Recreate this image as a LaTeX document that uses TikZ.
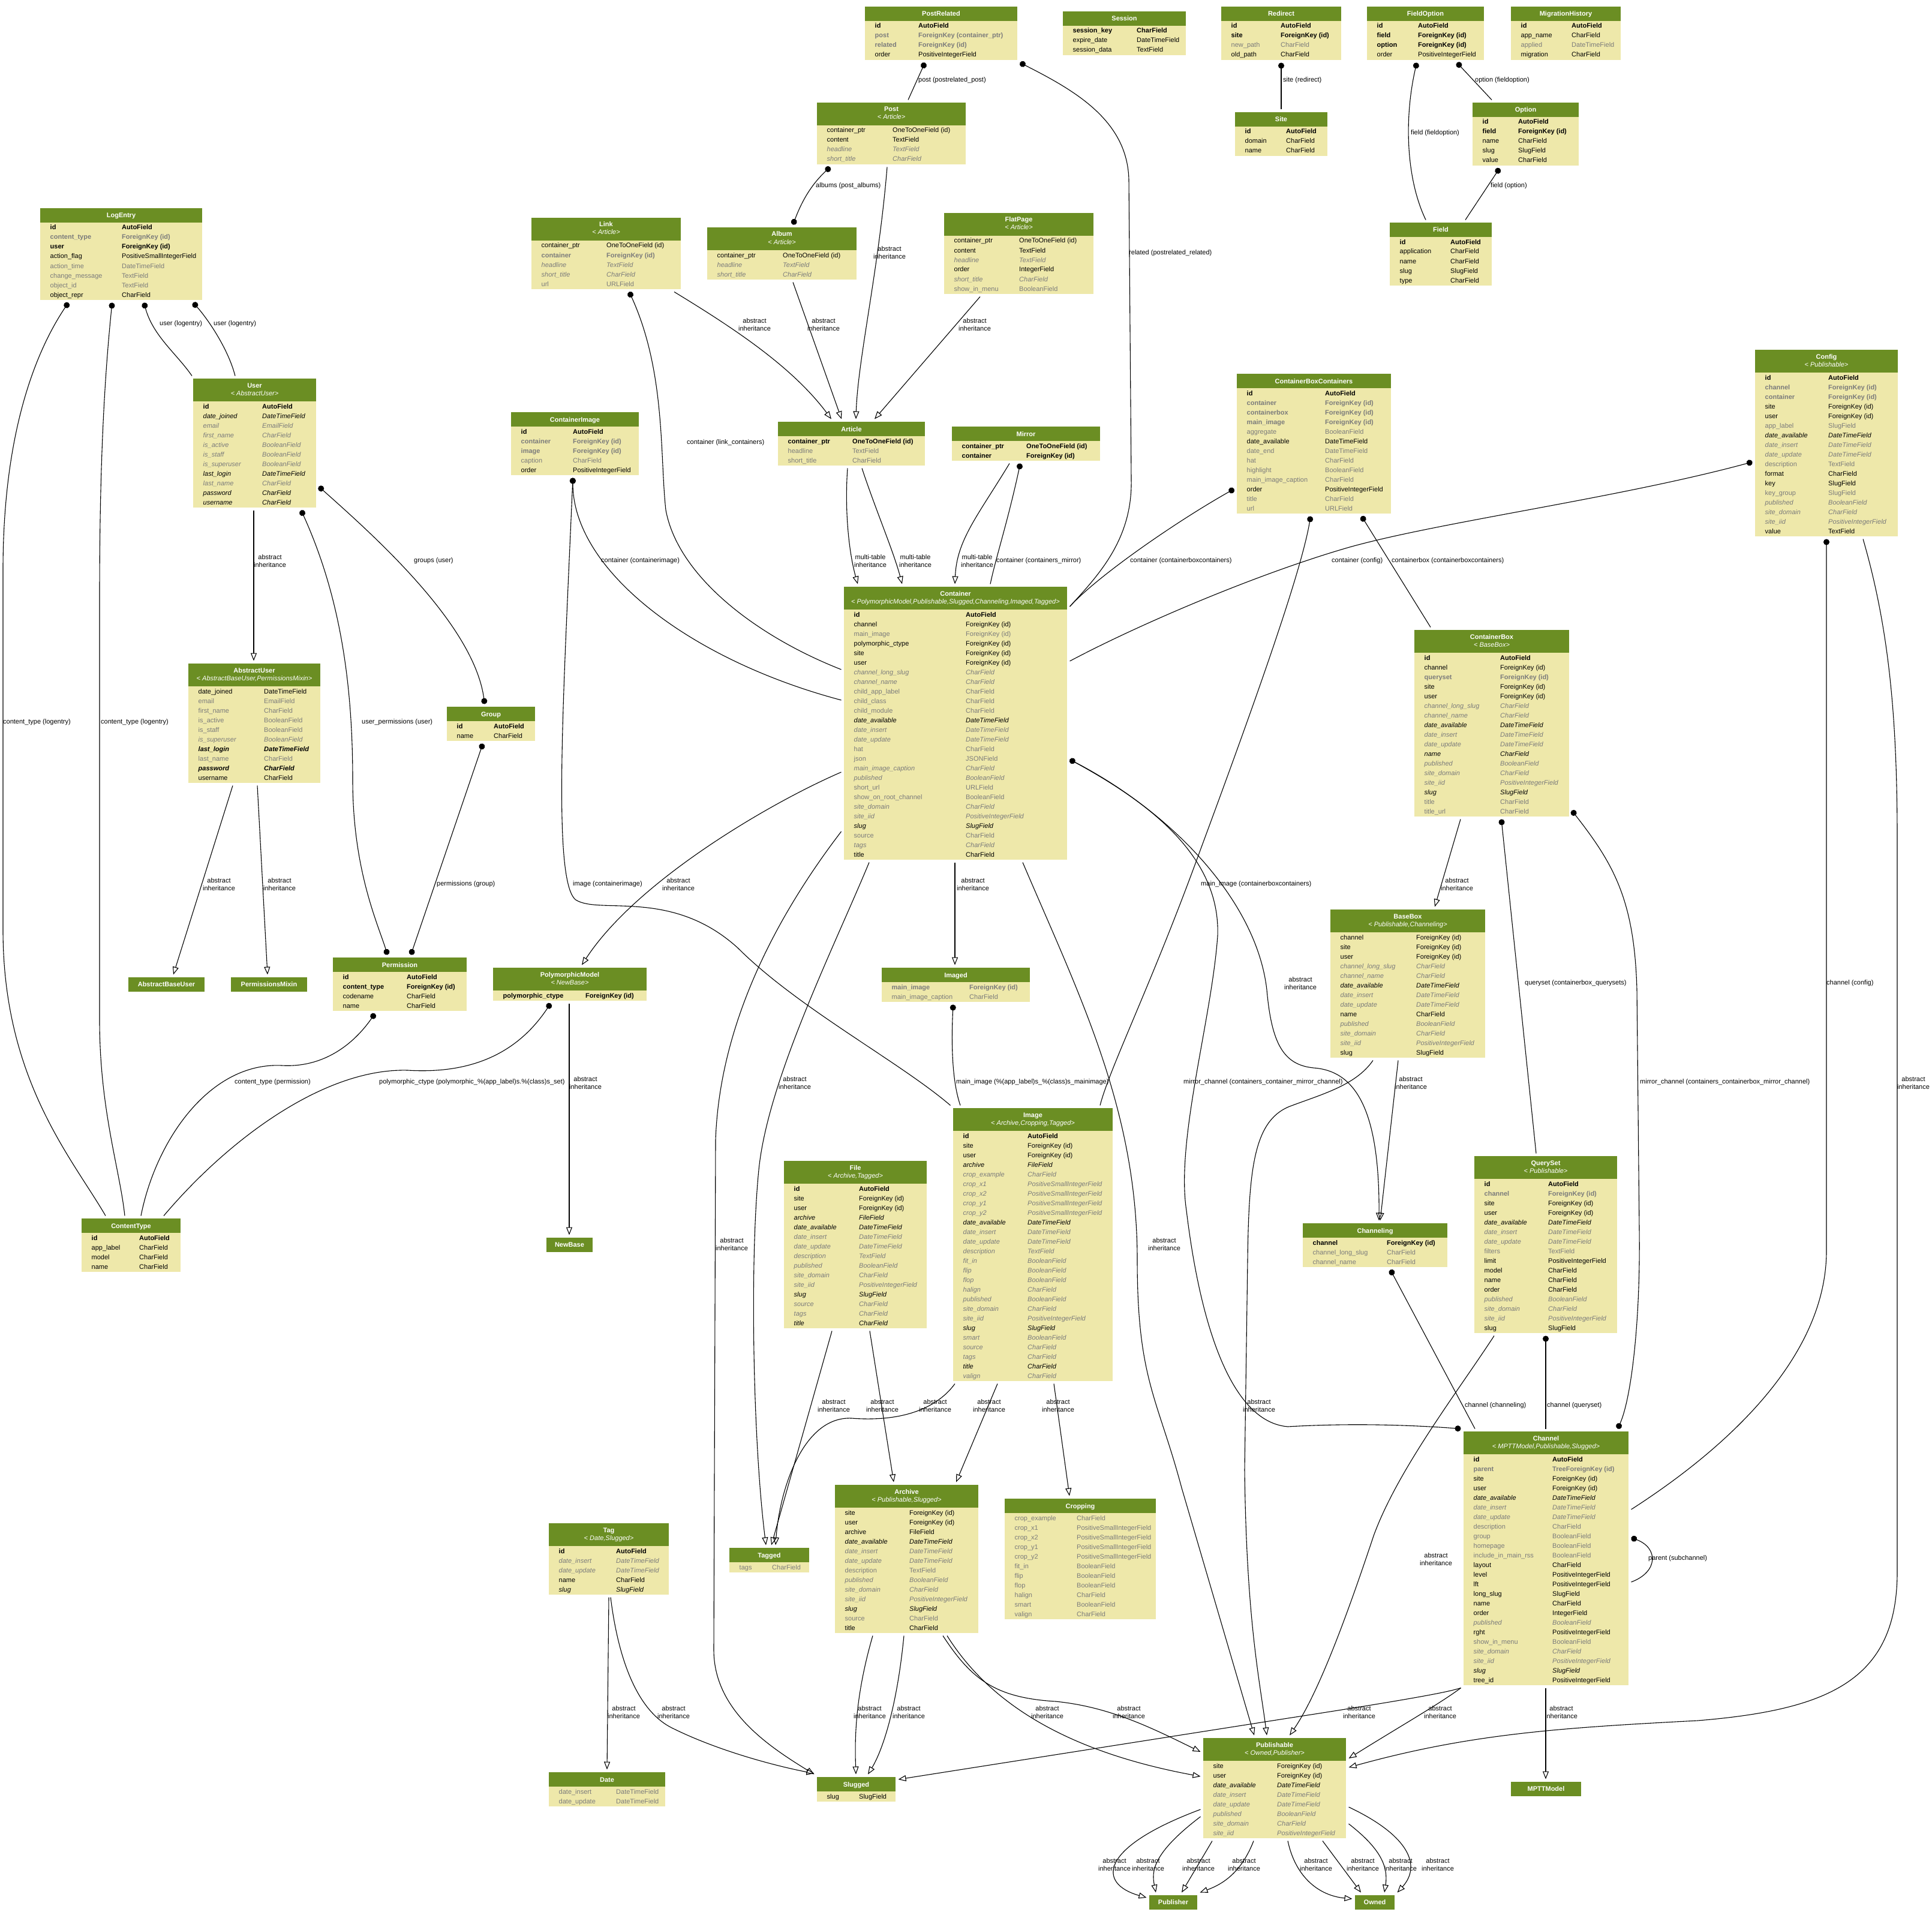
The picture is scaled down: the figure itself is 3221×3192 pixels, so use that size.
\documentclass[tikz,border=0pt]{standalone}
\usepackage{fontspec}
\setmainfont{Liberation Sans}
\usetikzlibrary{arrows.meta}
\definecolor{hdr}{HTML}{6B8E23}
\definecolor{bdy}{HTML}{EEE8AA}
\definecolor{fgray}{HTML}{7B7B7B}
\newcommand\fsB{\bfseries\color{black}}
\newcommand\fsBg{\bfseries\color{fgray}}
\newcommand\fsN{\color{black}}
\newcommand\fsg{\color{fgray}}
\newcommand\fsI{\itshape\color{black}}
\newcommand\fsIg{\itshape\color{fgray}}
\newcommand\fsBI{\bfseries\itshape\color{black}}
\tikzset{
  every node/.style={inner sep=0pt, font=\fontsize{11}{13}\selectfont},
  tblbox/.style={rectangle, fill=bdy, draw=none, outer sep=4.5pt},
  hbox/.style={rectangle, fill=hdr, outer sep=4.5pt, text=white, font=\fontsize{11}{13}\selectfont\bfseries},
  ttl/.style={anchor=base, text=white, font=\fontsize{11}{13}\selectfont\bfseries},
  subt/.style={anchor=base, text=white, font=\fontsize{11}{13}\selectfont\itshape},
  fld/.style={anchor=base west},
  lbl/.style={anchor=west},
  ab/.style={align=center},
  conn/.style={line width=1.1pt},
  fk/.style={conn, {Circle[length=10pt]}-},
  mm/.style={conn, {Circle[length=10pt]}-{Circle[length=10pt]}},
  inh/.style={conn, -{Triangle[open, length=13pt, width=10pt]}},
}
% #1 name, #2 L, #3 T, #4 R, #5 rows, #6 title, #7 subtitle, #8 type column offset, #9 rows
\newcommand{\tbl}[9]{%
  \pgfmathsetmacro\tL{#2}%
  \pgfmathsetmacro\tT{#3}%
  \pgfmathsetmacro\tR{#4}%
  \if\relax\detokenize{#7}\relax
    \pgfmathsetmacro\tH{#3+24}%
  \else
    \pgfmathsetmacro\tH{#3+38}%
  \fi
  \pgfmathsetmacro\tB{\tH+16*#5+1}%
  \pgfmathsetmacro\tW{#4-#2}%
  \pgfmathsetmacro\tHt{\tB-#3}%
  \pgfmathsetmacro\tCx{(#2+#4)/2}%
  \pgfmathsetmacro\tCy{(#3+\tB)/2}%
  \node[tblbox, minimum width=\tW pt, minimum height=\tHt pt] (#1) at (\tCx,\tCy) {};%
  \fill[hdr] (\tL,\tT) rectangle (\tR,\tH);%
  \if\relax\detokenize{#7}\relax
    \node[ttl] at (\tCx,\tT+16) {#6};%
  \else
    \node[ttl] at (\tCx,\tT+15) {#6};%
    \node[subt] at (\tCx,\tT+28) {#7};%
  \fi
  \foreach \s/\a/\b [count=\i from 0] in {#9} {%
    \pgfmathsetmacro\yy{\tH+12+16*\i}%
    \node[fld] at (\tL+16.5,\yy) {\csname fs\s\endcsname\a};%
    \node[fld] at (\tL+#8,\yy) {\csname fs\s\endcsname\b};%
  }%
}
\newcommand{\hbx}[5]{%
  \pgfmathsetmacro\tW{#4-#2}%
  \node[hbox, minimum width=\tW pt, minimum height=24pt] (#1) at ({(#2+#4)/2},{#3+12}) {#5};}
\newcommand{\ai}[3]{\node[ab] (#1) at (#2,#3) {abstract\\inheritance};}
\newcommand{\mt}[3]{\node[ab] (#1) at (#2,#3) {multi-table\\inheritance};}
\begin{document}
\begin{tikzpicture}[x=1pt,y=-1pt]
\useasboundingbox (0,0) rectangle (3221,3192);
\fill[white] (0,0) rectangle (3221,3192);

% ---------------- tables ----------------
\tbl{PostRelated}{1442}{11}{1696}{4}{PostRelated}{}{89}{B/id/AutoField, Bg/post/ForeignKey (container\_ptr), Bg/related/ForeignKey (id), N/order/PositiveIntegerField}
\tbl{Session}{1772}{19}{1977}{3}{Session}{}{123}{B/session\_key/CharField, N/expire\_date/DateTimeField, N/session\_data/TextField}
\tbl{Redirect}{2036}{11}{2236}{4}{Redirect}{}{99}{B/id/AutoField, B/site/ForeignKey (id), g/new\_path/CharField, N/old\_path/CharField}
\tbl{FieldOption}{2279}{11}{2474}{4}{FieldOption}{}{85}{B/id/AutoField, B/field/ForeignKey (id), B/option/ForeignKey (id), N/order/PositiveIntegerField}
\tbl{MigrationHistory}{2519}{11}{2702}{4}{MigrationHistory}{}{101}{B/id/AutoField, N/app\_name/CharField, g/applied/DateTimeField, N/migration/CharField}
\tbl{Post}{1362}{171}{1610}{4}{Post}{< Article>}{126}{N/container\_ptr/OneToOneField (id), N/content/TextField, Ig/headline/TextField, Ig/short\_title/CharField}
\tbl{Site}{2059}{187}{2213}{3}{Site}{}{85}{B/id/AutoField, N/domain/CharField, N/name/CharField}
\tbl{Option}{2455}{171}{2632}{5}{Option}{}{76}{B/id/AutoField, B/field/ForeignKey (id), N/name/CharField, N/slug/SlugField, N/value/CharField}
\tbl{Field}{2317}{371}{2487}{5}{Field}{}{101}{B/id/AutoField, N/application/CharField, N/name/CharField, N/slug/SlugField, N/type/CharField}
\tbl{LogEntry}{67}{347}{337}{8}{LogEntry}{}{136}{B/id/AutoField, Bg/content\_type/ForeignKey (id), B/user/ForeignKey (id), N/action\_flag/PositiveSmallIntegerField, g/action\_time/DateTimeField, g/change\_message/TextField, g/object\_id/TextField, N/object\_repr/CharField}
\tbl{Link}{886}{363}{1135}{5}{Link}{< Article>}{125}{N/container\_ptr/OneToOneField (id), Bg/container/ForeignKey (id), Ig/headline/TextField, Ig/short\_title/CharField, g/url/URLField}
\tbl{Album}{1179}{379}{1428}{3}{Album}{< Article>}{126}{N/container\_ptr/OneToOneField (id), Ig/headline/TextField, Ig/short\_title/CharField}
\tbl{FlatPage}{1574}{355}{1823}{6}{FlatPage}{< Article>}{125}{N/container\_ptr/OneToOneField (id), N/content/TextField, Ig/headline/TextField, N/order/IntegerField, Ig/short\_title/CharField, g/show\_in\_menu/BooleanField}
\tbl{User}{322}{631}{527}{11}{User}{< AbstractUser>}{115}{B/id/AutoField, I/date\_joined/DateTimeField, Ig/email/EmailField, Ig/first\_name/CharField, Ig/is\_active/BooleanField, Ig/is\_staff/BooleanField, Ig/is\_superuser/BooleanField, I/last\_login/DateTimeField, Ig/last\_name/CharField, I/password/CharField, I/username/CharField}
\tbl{ContainerImage}{852}{687}{1065}{5}{ContainerImage}{}{103}{B/id/AutoField, Bg/container/ForeignKey (id), Bg/image/ForeignKey (id), g/caption/CharField, N/order/PositiveIntegerField}
\tbl{Article}{1297}{703}{1542}{3}{Article}{}{124}{B/container\_ptr/OneToOneField (id), g/headline/TextField, g/short\_title/CharField}
\tbl{Mirror}{1587}{711}{1834}{2}{Mirror}{}{124}{B/container\_ptr/OneToOneField (id), B/container/ForeignKey (id)}
\tbl{ContainerBoxContainers}{2062}{623}{2319}{13}{ContainerBoxContainers}{}{147}{B/id/AutoField, Bg/container/ForeignKey (id), Bg/containerbox/ForeignKey (id), Bg/main\_image/ForeignKey (id), g/aggregate/BooleanField, N/date\_available/DateTimeField, g/date\_end/DateTimeField, g/hat/CharField, g/highlight/BooleanField, g/main\_image\_caption/CharField, N/order/PositiveIntegerField, g/title/CharField, g/url/URLField}
\tbl{Config}{2926}{583}{3164}{17}{Config}{< Publishable>}{122}{B/id/AutoField, Bg/channel/ForeignKey (id), Bg/container/ForeignKey (id), N/site/ForeignKey (id), N/user/ForeignKey (id), g/app\_label/SlugField, I/date\_available/DateTimeField, Ig/date\_insert/DateTimeField, Ig/date\_update/DateTimeField, g/description/TextField, N/format/CharField, N/key/SlugField, g/key\_group/SlugField, Ig/published/BooleanField, Ig/site\_domain/CharField, Ig/site\_iid/PositiveIntegerField, N/value/TextField}
\tbl{Container}{1407}{978}{1779}{26}{Container}{< PolymorphicModel,Publishable,Slugged,Channeling,Imaged,Tagged>}{203}{B/id/AutoField, N/channel/ForeignKey (id), g/main\_image/ForeignKey (id), N/polymorphic\_ctype/ForeignKey (id), N/site/ForeignKey (id), N/user/ForeignKey (id), Ig/channel\_long\_slug/CharField, Ig/channel\_name/CharField, g/child\_app\_label/CharField, g/child\_class/CharField, g/child\_module/CharField, I/date\_available/DateTimeField, Ig/date\_insert/DateTimeField, Ig/date\_update/DateTimeField, g/hat/CharField, g/json/JSONField, Ig/main\_image\_caption/CharField, Ig/published/BooleanField, g/short\_url/URLField, g/show\_on\_root\_channel/BooleanField, Ig/site\_domain/CharField, Ig/site\_iid/PositiveIntegerField, I/slug/SlugField, g/source/CharField, Ig/tags/CharField, N/title/CharField}
\tbl{ContainerBox}{2358}{1050}{2616}{17}{ContainerBox}{< BaseBox>}{143}{B/id/AutoField, N/channel/ForeignKey (id), Bg/queryset/ForeignKey (id), N/site/ForeignKey (id), N/user/ForeignKey (id), Ig/channel\_long\_slug/CharField, Ig/channel\_name/CharField, I/date\_available/DateTimeField, Ig/date\_insert/DateTimeField, Ig/date\_update/DateTimeField, I/name/CharField, Ig/published/BooleanField, Ig/site\_domain/CharField, Ig/site\_iid/PositiveIntegerField, I/slug/SlugField, g/title/CharField, g/title\_url/CharField}
\tbl{AbstractUser}{314}{1106}{534}{10}{AbstractUser}{< AbstractBaseUser,PermissionsMixin>}{126}{N/date\_joined/DateTimeField, g/email/EmailField, g/first\_name/CharField, g/is\_active/BooleanField, g/is\_staff/BooleanField, Ig/is\_superuser/BooleanField, BI/last\_login/DateTimeField, g/last\_name/CharField, BI/password/CharField, N/username/CharField}
\tbl{Group}{745}{1178}{892}{2}{Group}{}{78}{B/id/AutoField, N/name/CharField}
\tbl{Permission}{555}{1596}{778}{4}{Permission}{}{123}{B/id/AutoField, B/content\_type/ForeignKey (id), N/codename/CharField, N/name/CharField}
\hbx{AbstractBaseUser}{214}{1629}{341}{AbstractBaseUser}
\hbx{PermissionsMixin}{385}{1629}{512}{PermissionsMixin}
\tbl{PolymorphicModel}{822}{1613}{1078}{1}{PolymorphicModel}{< NewBase>}{154}{B/polymorphic\_ctype/ForeignKey (id)}
\tbl{ContentType}{136}{2031}{301}{4}{ContentType}{}{96}{B/id/AutoField, N/app\_label/CharField, N/model/CharField, N/name/CharField}
\hbx{NewBase}{911}{2063}{988}{NewBase}
\tbl{Imaged}{1470}{1613}{1717}{2}{Imaged}{}{146}{Bg/main\_image/ForeignKey (id), g/main\_image\_caption/CharField}
\tbl{BaseBox}{2218}{1516}{2476}{13}{BaseBox}{< Publishable,Channeling>}{143}{N/channel/ForeignKey (id), N/site/ForeignKey (id), N/user/ForeignKey (id), Ig/channel\_long\_slug/CharField, Ig/channel\_name/CharField, I/date\_available/DateTimeField, Ig/date\_insert/DateTimeField, Ig/date\_update/DateTimeField, N/name/CharField, Ig/published/BooleanField, Ig/site\_domain/CharField, Ig/site\_iid/PositiveIntegerField, N/slug/SlugField}
\tbl{Image}{1589}{1847}{1855}{26}{Image}{< Archive,Cropping,Tagged>}{124}{B/id/AutoField, N/site/ForeignKey (id), N/user/ForeignKey (id), I/archive/FileField, Ig/crop\_example/CharField, Ig/crop\_x1/PositiveSmallIntegerField, Ig/crop\_x2/PositiveSmallIntegerField, Ig/crop\_y1/PositiveSmallIntegerField, Ig/crop\_y2/PositiveSmallIntegerField, I/date\_available/DateTimeField, Ig/date\_insert/DateTimeField, Ig/date\_update/DateTimeField, Ig/description/TextField, Ig/fit\_in/BooleanField, Ig/flip/BooleanField, Ig/flop/BooleanField, Ig/halign/CharField, Ig/published/BooleanField, Ig/site\_domain/CharField, Ig/site\_iid/PositiveIntegerField, I/slug/SlugField, Ig/smart/BooleanField, Ig/source/CharField, Ig/tags/CharField, I/title/CharField, Ig/valign/CharField}
\tbl{File}{1307}{1935}{1545}{15}{File}{< Archive,Tagged>}{125}{B/id/AutoField, N/site/ForeignKey (id), N/user/ForeignKey (id), I/archive/FileField, I/date\_available/DateTimeField, Ig/date\_insert/DateTimeField, Ig/date\_update/DateTimeField, Ig/description/TextField, Ig/published/BooleanField, Ig/site\_domain/CharField, Ig/site\_iid/PositiveIntegerField, I/slug/SlugField, Ig/source/CharField, Ig/tags/CharField, I/title/CharField}
\tbl{Channeling}{2172}{2039}{2413}{3}{Channeling}{}{140}{B/channel/ForeignKey (id), g/channel\_long\_slug/CharField, g/channel\_name/CharField}
\tbl{QuerySet}{2458}{1927}{2696}{16}{QuerySet}{< Publishable>}{123}{B/id/AutoField, Bg/channel/ForeignKey (id), N/site/ForeignKey (id), N/user/ForeignKey (id), I/date\_available/DateTimeField, Ig/date\_insert/DateTimeField, Ig/date\_update/DateTimeField, g/filters/TextField, N/limit/PositiveIntegerField, N/model/CharField, N/name/CharField, N/order/CharField, Ig/published/BooleanField, Ig/site\_domain/CharField, Ig/site\_iid/PositiveIntegerField, N/slug/SlugField}
\tbl{Channel}{2440}{2386}{2715}{24}{Channel}{< MPTTModel,Publishable,Slugged>}{148}{B/id/AutoField, Bg/parent/TreeForeignKey (id), N/site/ForeignKey (id), N/user/ForeignKey (id), I/date\_available/DateTimeField, Ig/date\_insert/DateTimeField, Ig/date\_update/DateTimeField, g/description/CharField, g/group/BooleanField, g/homepage/BooleanField, g/include\_in\_main\_rss/BooleanField, N/layout/CharField, N/level/PositiveIntegerField, N/lft/PositiveIntegerField, N/long\_slug/SlugField, N/name/CharField, N/order/IntegerField, Ig/published/BooleanField, N/rght/PositiveIntegerField, g/show\_in\_menu/BooleanField, Ig/site\_domain/CharField, Ig/site\_iid/PositiveIntegerField, I/slug/SlugField, N/tree\_id/PositiveIntegerField}
\tbl{Cropping}{1675}{2498}{1927}{11}{Cropping}{}{120}{g/crop\_example/CharField, g/crop\_x1/PositiveSmallIntegerField, g/crop\_x2/PositiveSmallIntegerField, g/crop\_y1/PositiveSmallIntegerField, g/crop\_y2/PositiveSmallIntegerField, g/fit\_in/BooleanField, g/flip/BooleanField, g/flop/BooleanField, g/halign/CharField, g/smart/BooleanField, g/valign/CharField}
\tbl{Archive}{1392}{2475}{1631}{13}{Archive}{< Publishable,Slugged>}{124}{N/site/ForeignKey (id), N/user/ForeignKey (id), N/archive/FileField, I/date\_available/DateTimeField, Ig/date\_insert/DateTimeField, Ig/date\_update/DateTimeField, g/description/TextField, Ig/published/BooleanField, Ig/site\_domain/CharField, Ig/site\_iid/PositiveIntegerField, I/slug/SlugField, g/source/CharField, N/title/CharField}
\tbl{Tagged}{1216}{2580}{1349}{1}{Tagged}{}{71}{g/tags/CharField}
\tbl{Tag}{915}{2539}{1115}{5}{Tag}{< Date,Slugged>}{112}{B/id/AutoField, Ig/date\_insert/DateTimeField, Ig/date\_update/DateTimeField, N/name/CharField, I/slug/SlugField}
\tbl{Date}{915}{2954}{1109}{2}{Date}{}{112}{g/date\_insert/DateTimeField, g/date\_update/DateTimeField}
\tbl{Slugged}{1362}{2962}{1493}{1}{Slugged}{}{70}{N/slug/SlugField}
\tbl{Publishable}{2006}{2897}{2244}{8}{Publishable}{< Owned,Publisher>}{123}{N/site/ForeignKey (id), N/user/ForeignKey (id), I/date\_available/DateTimeField, Ig/date\_insert/DateTimeField, Ig/date\_update/DateTimeField, Ig/published/BooleanField, Ig/site\_domain/CharField, Ig/site\_iid/PositiveIntegerField}
\hbx{Publisher}{1916}{3159}{1996}{Publisher}
\hbx{Owned}{2259}{3159}{2325}{Owned}
\hbx{MPTTModel}{2519}{2970}{2636}{MPTTModel}

% ---------------- connectors ----------------
\draw[fk] (114,0 |- LogEntry.south) .. controls (70,570) and (5,700) .. (5,950) -- (5,1550) .. controls (5,1800) and (120,1930) .. (176,0 |- ContentType.north);
\draw[fk] (187,0 |- LogEntry.south) .. controls (172,650) and (166,800) .. (166,1000) -- (166,1700) .. controls (166,1850) and (200,1950) .. (208,0 |- ContentType.north);
\draw[fk] (240,0 |- LogEntry.south) .. controls (255,560) and (295,590) .. (320,0 |- User.north);
\draw[fk] (322,0 |- LogEntry.south) .. controls (345,530) and (380,580) .. (392,0 |- User.north);
\draw[inh] (423,0 |- User.south) -- (423,0 |- AbstractUser.north);
\draw[mm] (User.east |- 0,811) .. controls (620,890) and (790,1040) .. (808,0 |- Group.north);
\draw[mm] (502,0 |- User.south) .. controls (570,1000) and (588,1150) .. (588,1300) .. controls (588,1450) and (630,1540) .. (646,0 |- Permission.north);
\draw[mm] (805,0 |- Group.south) -- (685,0 |- Permission.north);
\draw[inh] (388,0 |- AbstractUser.south) -- (289,0 |- AbstractBaseUser.north);
\draw[inh] (429,0 |- AbstractUser.south) -- (446,0 |- PermissionsMixin.north);
\draw[fk] (625,0 |- Permission.south) .. controls (590,1740) and (540,1780) .. (470,1776) .. controls (350,1770) and (260,1900) .. (235,0 |- ContentType.north);
\draw[fk] (918,0 |- PolymorphicModel.south) .. controls (860,1760) and (780,1790) .. (680,1784) .. controls (540,1780) and (380,1900) .. (273,0 |- ContentType.north);
\draw[inh] (949,0 |- PolymorphicModel.south) -- (949,0 |- NewBase.north);
\draw[inh] (Container.west |- 0,1287) .. controls (1280,1340) and (1060,1470) .. (970,0 |- PolymorphicModel.north);
\draw[fk] (955,0 |- ContainerImage.south) .. controls (955,950) and (1150,1100) .. (Container.west |- 0,1167);
\draw[fk] (955,0 |- ContainerImage.south) .. controls (940,1150) and (920,1470) .. (960,1500) .. controls (1000,1525) and (1120,1480) .. (1230,1580) .. controls (1330,1680) and (1500,1770) .. (Image.north west);
\draw[fk] (1049,0 |- Link.south) .. controls (1110,620) and (1100,760) .. (1110,850) .. controls (1130,960) and (1260,1060) .. (Container.west |- 0,1116);
\draw[inh] (1124,0 |- Link.south) .. controls (1220,545) and (1320,610) .. (1386,0 |- Article.north);
\draw[inh] (1322,0 |- Album.south) -- (1403,0 |- Article.north);
\draw[inh] (1479,0 |- Post.south) .. controls (1465,450) and (1430,600) .. (1427,0 |- Article.north);
\draw[inh] (1634,0 |- FlatPage.south) -- (1458,0 |- Article.north);
\draw[mm] (1384,0 |- Post.south) .. controls (1350,310) and (1335,340) .. (1322,0 |- Album.north);
\draw[fk] (1542,0 |- PostRelated.south) -- (1514,0 |- Post.north);
\draw[fk] (PostRelated.south east) .. controls (1790,150) and (1880,200) .. (1882,300) -- (1886,800) .. controls (1888,900) and (1830,960) .. (Container.east |- 0,1011);
\draw[inh] (1413,0 |- Article.south) .. controls (1408,850) and (1415,920) .. (1430,0 |- Container.north);
\draw[inh] (1437,0 |- Article.south) .. controls (1460,850) and (1490,920) .. (1504,0 |- Container.north);
\draw[inh] (1683,0 |- Mirror.south) .. controls (1630,860) and (1595,900) .. (1592,0 |- Container.north);
\draw[fk] (1701,0 |- Mirror.south) .. controls (1680,870) and (1660,930) .. (1651,0 |- Container.north);
\draw[fk] (ContainerBoxContainers.west |- 0,815) .. controls (1960,870) and (1830,960) .. (Container.east |- 0,1011);
\draw[fk] (Config.west |- 0,770) .. controls (2700,830) and (2400,870) .. (2250,912) .. controls (2100,955) and (1900,1040) .. (Container.east |- 0,1102);
\draw[fk] (2270,0 |- ContainerBoxContainers.south) -- (2385,0 |- ContainerBox.north);
\draw[fk] (2185,0 |- ContainerBoxContainers.south) .. controls (2170,950) and (2100,1150) .. (2000,1420) .. controls (1920,1640) and (1850,1780) .. (1834,0 |- Image.north);
\draw[inh] (1592,0 |- Container.south) -- (1592,0 |- Imaged.north);
\draw[fk] (1589,0 |- Imaged.south) .. controls (1585,1760) and (1590,1810) .. (1601,0 |- Image.north);
\draw[inh] (1449,0 |- Container.south) .. controls (1390,1580) and (1280,1800) .. (1265,1950) .. controls (1250,2100) and (1255,2400) .. (1277,0 |- Tagged.north);
\draw[inh] (Container.west |- 0,1386) .. controls (1300,1520) and (1200,1700) .. (1193,1900) -- (1190,2750) .. controls (1190,2850) and (1280,2910) .. (Slugged.north west);
\draw[inh] (1705,0 |- Container.south) .. controls (1800,1660) and (1896,1850) .. (1896,2100) .. controls (1896,2300) and (1930,2330) .. (1970,2480) -- (2091,0 |- Publishable.north);
\draw[inh] (Container.east |- 0,1266) .. controls (1950,1350) and (2095,1500) .. (2112,1650) .. controls (2120,1740) and (2140,1775) .. (2190,1780) .. controls (2260,1785) and (2300,1850) .. (2299,0 |- Channeling.north);
\draw[mm] (Container.east |- 0,1266) .. controls (1920,1340) and (2035,1430) .. (2030,1560) .. controls (2020,1700) and (1960,1900) .. (1978,2018) .. controls (2000,2200) and (2050,2370) .. (2147,2378) .. controls (2250,2372) and (2350,2375) .. (Channel.north west);
\draw[inh] (2289,0 |- BaseBox.south) .. controls (2260,1810) and (2200,1825) .. (2148,1845) .. controls (2090,1870) and (2082,1950) .. (2080,2100) -- (2075,2450) .. controls (2078,2700) and (2100,2800) .. (2112,0 |- Publishable.north);
\draw[inh] (2331,0 |- BaseBox.south) -- (2301,0 |- Channeling.north);
\draw[inh] (2435,0 |- ContainerBox.south) -- (2392,0 |- BaseBox.north);
\draw[fk] (2503,0 |- ContainerBox.south) -- (2561,0 |- QuerySet.north);
\draw[mm] (ContainerBox.east |- 0,1351) .. controls (2690,1440) and (2725,1500) .. (2729,1650) -- (2733,2050) .. controls (2735,2200) and (2720,2330) .. (2697,0 |- Channel.north);
\draw[fk] (3045,0 |- Config.south) -- (3045,2085) .. controls (3045,2250) and (2900,2400) .. (Channel.east |- 0,2516);
\draw[inh] (3106,0 |- Config.south) .. controls (3150,1050) and (3163,1200) .. (3163,1400) -- (3163,2620) .. controls (3163,2800) and (3050,2850) .. (2830,2868) .. controls (2600,2880) and (2450,2890) .. (Publishable.east |- 0,2946);
\draw[fk] (2577,0 |- QuerySet.south) -- (2577,0 |- Channel.north);
\draw[fk] (2318,0 |- Channeling.south) -- (2459,0 |- Channel.north);
\draw[inh] (2491,0 |- QuerySet.south) .. controls (2430,2320) and (2330,2450) .. (2290,2560) .. controls (2250,2680) and (2200,2820) .. (2150,0 |- Publishable.north);
\draw[inh] (Channel.south west) .. controls (2420,2818) and (2400,2825) .. (2147,2864) -- (Slugged.east |- 0,2966);
\draw[inh] (Channel.south west) .. controls (2400,2840) and (2330,2880) .. (Publishable.east |- 0,2931);
\draw[inh] (2577,0 |- Channel.south) -- (2577,0 |- MPTTModel.north);
\draw[fk] (Channel.east |- 0,2563) .. controls (2765,2580) and (2765,2620) .. (Channel.east |- 0,2637);
\draw[inh] (1663,0 |- Image.south) -- (1594,0 |- Archive.north);
\draw[inh] (1757,0 |- Image.south) -- (1783,0 |- Cropping.north);
\draw[inh] (1592,0 |- Image.south) .. controls (1560,2350) and (1500,2370) .. (1420,2364) .. controls (1340,2360) and (1300,2480) .. (1293,0 |- Tagged.north);
\draw[inh] (1387,0 |- File.south) -- (1286,0 |- Tagged.north);
\draw[inh] (1450,0 |- File.south) -- (1490,0 |- Archive.north);
\draw[inh] (1455,0 |- Archive.south) .. controls (1425,2830) and (1425,2900) .. (1427,0 |- Slugged.north);
\draw[inh] (1507,0 |- Archive.south) .. controls (1495,2850) and (1470,2920) .. (1447,0 |- Slugged.north);
\draw[inh] (1572,0 |- Archive.south) .. controls (1620,2800) and (1660,2830) .. (1760,2836) .. controls (1850,2845) and (1920,2880) .. (Publishable.west |- 0,2920);
\draw[inh] (1579,0 |- Archive.south) .. controls (1650,2840) and (1780,2920) .. (Publishable.west |- 0,2961);
\draw[inh] (1015,0 |- Tag.south) -- (1012,0 |- Date.north);
\draw[inh] (1018,0 |- Tag.south) .. controls (1030,2760) and (1060,2850) .. (1120,2880) .. controls (1200,2920) and (1300,2945) .. (Slugged.west |- 0,2956);
\draw[inh] (Publishable.west |- 0,3016) .. controls (1830,3080) and (1830,3140) .. (Publisher.west |- 0,3163);
\draw[inh] (Publishable.west |- 0,3028) .. controls (1920,3090) and (1920,3120) .. (1927,0 |- Publisher.north);
\draw[inh] (2021,0 |- Publishable.south) -- (1970,0 |- Publisher.north);
\draw[inh] (2090,0 |- Publishable.south) .. controls (2070,3120) and (2040,3140) .. (Publisher.north east);
\draw[inh] (2147,0 |- Publishable.south) .. controls (2160,3130) and (2200,3160) .. (Owned.west |- 0,3165);
\draw[inh] (2205,0 |- Publishable.south) -- (2269,0 |- Owned.north);
\draw[inh] (Publishable.east |- 0,3040) .. controls (2300,3080) and (2315,3110) .. (2308,0 |- Owned.north);
\draw[inh] (Publishable.east |- 0,3012) .. controls (2350,3060) and (2370,3110) .. (Owned.north east);
\draw[fk] (2136,0 |- Redirect.south) -- (2136,0 |- Site.north);
\draw[fk] (2362,0 |- FieldOption.south) .. controls (2340,200) and (2345,300) .. (2377,0 |- Field.north);
\draw[fk] (2429,0 |- FieldOption.south) -- (2487,0 |- Option.north);
\draw[fk] (2500,0 |- Option.south) -- (2443,0 |- Field.north);

% ---------------- labels ----------------
\node[lbl] (l1) at (5,1204) {content\_type (logentry)};
\node[lbl] (l2) at (168,1204) {content\_type (logentry)};
\node[lbl] (l3) at (266,540) {user (logentry)};
\node[lbl] (l4) at (356,540) {user (logentry)};
\ai{l5}{450}{935}
\node[lbl] (l6) at (690,935) {groups (user)};
\node[lbl] (l7) at (603,1204) {user\_permissions (user)};
\node[lbl] (l8) at (728,1474) {permissions (group)};
\ai{l9}{365}{1474}
\ai{l10}{466}{1474}
\node[lbl] (l11) at (391,1804) {content\_type (permission)};
\node[lbl] (l12) at (632,1804) {polymorphic\_ctype (polymorphic\_\%(app\_label)s.\%(class)s\_set)};
\ai{l13}{976}{1805}
\ai{l14}{1131}{1474}
\node[lbl] (l15) at (1002,935) {container (containerimage)};
\node[lbl] (l16) at (955,1474) {image (containerimage)};
\node[lbl] (l17) at (1145,738) {container (link\_containers)};
\ai{l18}{1258}{541}
\ai{l19}{1373}{541}
\ai{l20}{1483}{421}
\ai{l21}{1625}{541}
\node[lbl] (l22) at (1360,310) {albums (post\_albums)};
\node[lbl] (l23) at (1531,134) {post (postrelated\_post)};
\node[lbl] (l24) at (1882,422) {related (postrelated\_related)};
\mt{l25}{1451}{935}
\mt{l26}{1526}{935}
\mt{l27}{1629}{935}
\node[lbl] (l28) at (1661,935) {container (containers\_mirror)};
\node[lbl] (l29) at (1884,935) {container (containerboxcontainers)};
\node[lbl] (l30) at (2220,935) {container (config)};
\node[lbl] (l31) at (2320,935) {containerbox (containerboxcontainers)};
\node[lbl] (l32) at (2002,1474) {main\_image (containerboxcontainers)};
\ai{l33}{1622}{1474}
\node[lbl] (l34) at (1594,1804) {main\_image (\%(app\_label)s\_\%(class)s\_mainimage)};
\ai{l35}{1325}{1805}
\ai{l36}{1220}{2074}
\ai{l37}{1941}{2074}
\ai{l38}{2168}{1639}
\node[lbl] (l39) at (1973,1804) {mirror\_channel (containers\_container\_mirror\_channel)};
\ai{l40}{2099}{2343}
\ai{l41}{2352}{1805}
\ai{l42}{2429}{1474}
\node[lbl] (l43) at (2542,1639) {queryset (containerbox\_querysets)};
\node[lbl] (l44) at (2734,1804) {mirror\_channel (containers\_containerbox\_mirror\_channel)};
\node[lbl] (l45) at (3045,1639) {channel (config)};
\ai{l46}{3190}{1805}
\node[lbl] (l47) at (2579,2343) {channel (queryset)};
\node[lbl] (l48) at (2442,2343) {channel (channeling)};
\ai{l49}{2394}{2599}
\ai{l50}{2266}{2854}
\ai{l51}{2401}{2854}
\ai{l52}{2603}{2854}
\node[lbl] (l53) at (2748,2598) {parent (subchannel)};
\ai{l54}{1649}{2343}
\ai{l55}{1764}{2343}
\ai{l56}{1559}{2343}
\ai{l57}{1390}{2343}
\ai{l58}{1471}{2343}
\ai{l59}{1450}{2854}
\ai{l60}{1515}{2854}
\ai{l61}{1746}{2854}
\ai{l62}{1882}{2854}
\ai{l63}{1040}{2854}
\ai{l64}{1123}{2854}
\ai{l65}{1858}{3108}
\ai{l66}{1914}{3108}
\ai{l67}{1998}{3108}
\ai{l68}{2074}{3108}
\ai{l69}{2194}{3108}
\ai{l70}{2272}{3108}
\ai{l71}{2335}{3108}
\ai{l72}{2397}{3108}
\node[lbl] (l73) at (2139,134) {site (redirect)};
\node[lbl] (l74) at (2352,222) {field (fieldoption)};
\node[lbl] (l75) at (2459,134) {option (fieldoption)};
\node[lbl] (l76) at (2485,310) {field (option)};
\end{tikzpicture}
\end{document}
